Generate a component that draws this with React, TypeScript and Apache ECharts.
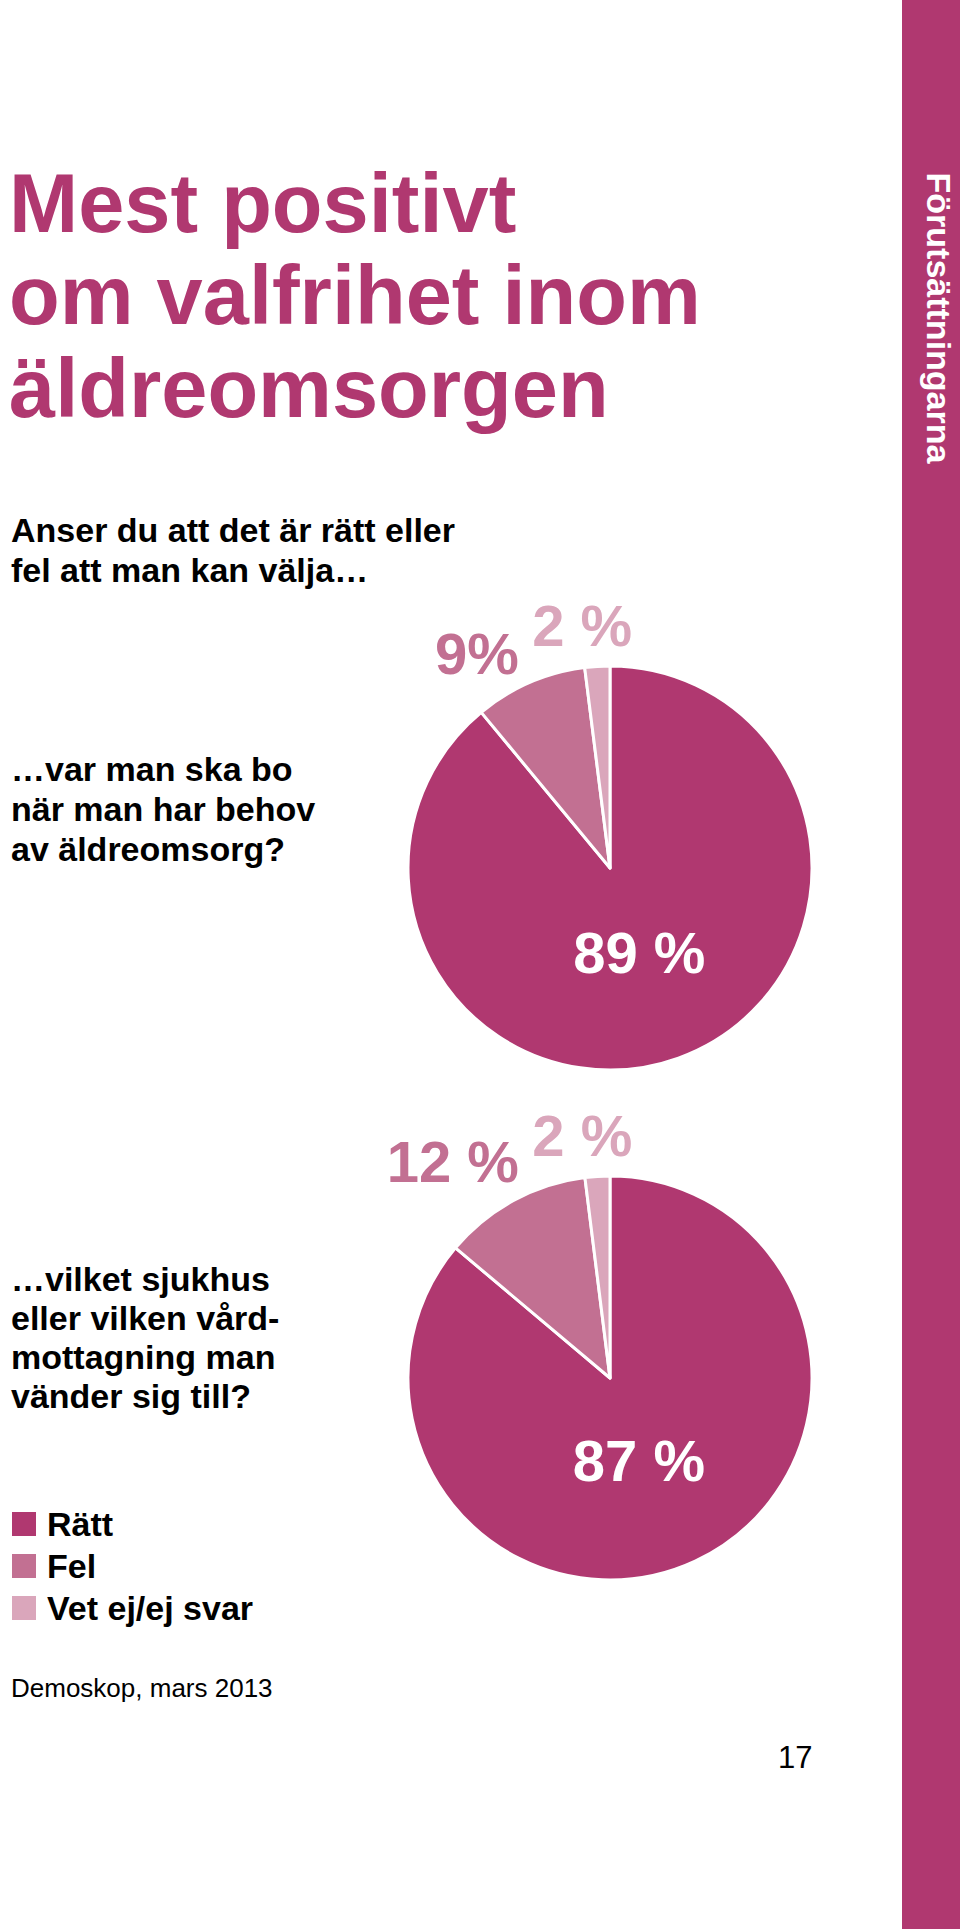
import React, { useEffect, useRef } from "react";
import * as echarts from "echarts";

// ---------- data ----------
const categories = ["Rätt", "Fel", "Vet ej/ej svar"];
const boValues = [89, 9, 2];
const vardValues = [87, 12, 2];
const boLabels = ["89 %", "9%", "2 %"];
const vardLabels = ["87 %", "12 %", "2 %"];

const titleLines = ["Mest positivt", "om valfrihet inom", "äldreomsorgen"];
const introLines = ["Anser du att det är rätt eller", "fel att man kan välja…"];
const question1Lines = ["…var man ska bo", "när man har behov", "av äldreomsorg?"];
const question2Lines = ["…vilket sjukhus", "eller vilken vård-", "mottagning man", "vänder sig till?"];
const sourceText = "Demoskop, mars 2013";
const pageNumber = "17";
const sectionName = "Förutsättningarna";

// ---------- style ----------
const MAGENTA = "#b03870";
const sliceColors = ["#b03870", "#c27092", "#daa6bb"];
const FONT = "'Liberation Sans', Arial, Helvetica, sans-serif";
const CENTRAL = 0.3465; // alphabetic baseline -> central offset (em)

// label nudges [series][item] = [dx, dy]
const labelNudges = [
  [[-6, -13], [8, 3], [42, -6]],
  [[-15, -12], [27, -8], [42, -6]],
];

function textLines(
  lines: string[],
  x: number,
  firstBaseline: number,
  lineGap: number,
  fontSize: number,
  fontWeight: string,
  fill: string
) {
  return lines.map((t, i) => ({
    type: "text",
    silent: true,
    x,
    y: firstBaseline + i * lineGap - CENTRAL * fontSize,
    style: {
      text: t,
      fill,
      fontSize,
      fontWeight,
      fontFamily: FONT,
      align: "left",
      textAlign: "left",
      verticalAlign: "middle",
      textVerticalAlign: "middle",
    },
  }));
}

function makePie(values: number[], labels: string[], center: number[], seriesIdx: number) {
  return {
    type: "pie",
    center,
    radius: 202,
    startAngle: 90,
    clockwise: true,
    avoidLabelOverlap: false,
    minShowLabelAngle: 0,
    silent: true,
    color: sliceColors,
    itemStyle: { borderColor: "#ffffff", borderWidth: 3 },
    label: {
      show: true,
      position: "outside",
      formatter: (p: any) => labels[p.dataIndex],
      fontSize: 58,
      fontWeight: "bold",
      fontFamily: FONT,
      distanceToLabelLine: 5,
    },
    labelLine: { show: false, length: 35, length2: 0 },
    labelLayout: (params: any) => {
      const n = labelNudges[seriesIdx][params.dataIndex] || [0, 0];
      return { dx: n[0], dy: n[1], hideOverlap: false };
    },
    emphasis: { disabled: true },
    data: categories.map((name, i) => ({
      name,
      value: values[i],
      label:
        i === 0
          ? { position: "inside", color: "#ffffff" }
          : { color: sliceColors[i] },
    })),
  };
}

export default function App() {
  const ref = useRef<HTMLDivElement>(null);

  useEffect(() => {
    if (!ref.current) return;
    const chart = echarts.init(ref.current, undefined, { renderer: "svg" });

    const graphic: any[] = [
      {
        type: "rect",
        silent: true,
        shape: { x: 902, y: 0, width: 58, height: 1929 },
        style: { fill: MAGENTA },
      },
      {
        type: "text",
        silent: true,
        x: 939,
        y: 318,
        rotation: -Math.PI / 2,
        style: {
          text: sectionName,
          fill: "#ffffff",
          fontSize: 34,
          fontWeight: "bold",
          fontFamily: FONT,
          align: "center",
          textAlign: "center",
          verticalAlign: "middle",
          textVerticalAlign: "middle",
        },
      },
      ...textLines(titleLines, 9, 232, 92.5, 83, "bold", MAGENTA),
      ...textLines(introLines, 11, 542, 40, 34, "bold", "#000000"),
      ...textLines(question1Lines, 11, 781, 40, 34, "bold", "#000000"),
      ...textLines(question2Lines, 11, 1291, 39, 34, "bold", "#000000"),
      ...textLines([sourceText], 11, 1697, 0, 26, "normal", "#000000"),
      ...textLines([pageNumber], 778, 1768, 0, 31, "normal", "#000000"),
    ];

    chart.setOption({
      animation: false,
      backgroundColor: "#ffffff",
      legend: {
        orient: "vertical",
        left: 12,
        top: 1507,
        padding: 0,
        itemGap: 8,
        itemWidth: 24,
        itemHeight: 24,
        icon: "rect",
        selectedMode: false,
        data: categories,
        itemStyle: { borderWidth: 0 },
        textStyle: {
          fontSize: 34,
          fontWeight: "bold",
          color: "#000000",
          fontFamily: FONT,
          padding: [0, 0, 0, 6],
        },
      },
      graphic,
      series: [
        makePie(boValues, boLabels, [610, 868], 0),
        makePie(vardValues, vardLabels, [610, 1378], 1),
      ],
    });

    return () => chart.dispose();
  }, []);

  return (
    <div
      ref={ref}
      style={{ position: "absolute", left: 0, top: 0, width: 960, height: 1929 }}
    />
  );
}
